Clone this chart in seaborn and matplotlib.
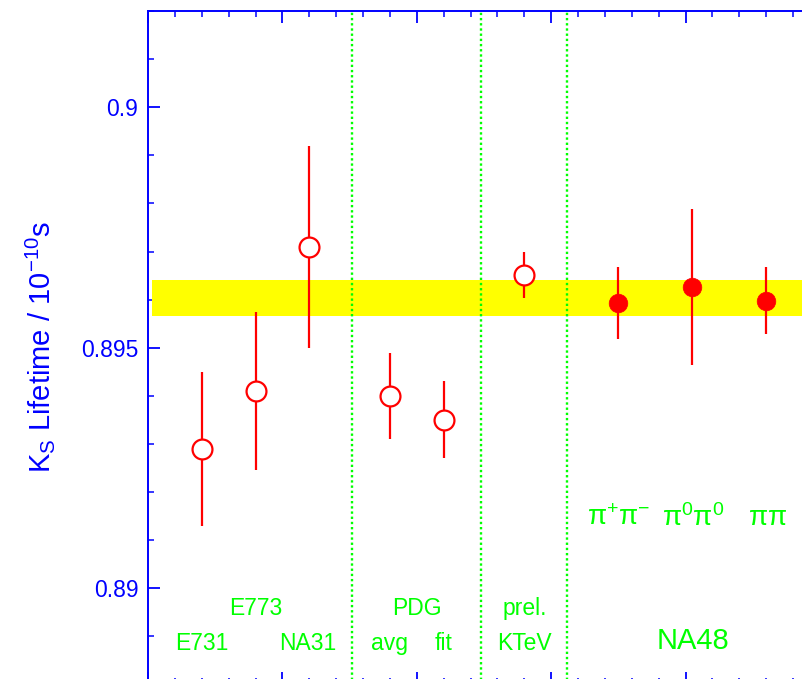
import matplotlib
matplotlib.use("Agg")
import matplotlib.pyplot as plt
import seaborn as sns
import numpy as np
import pandas as pd
from matplotlib.ticker import MultipleLocator, FixedLocator, FixedFormatter

# ---- data ----
experiments = ["E731", "E773", "NA31", "PDG avg", "PDG fit", "KTeV prel.",
               "NA48 pi+pi-", "NA48 pi0pi0", "NA48 pipi"]
x_pos = [2, 4, 6, 9, 11, 14, 17.5, 20.25, 23]
lifetime = [0.8929, 0.8941, 0.8971, 0.8940, 0.8935, 0.89652, 0.89593, 0.89626, 0.89598]
error = [0.0016, 0.00165, 0.0021, 0.00089, 0.0008, 0.00048, 0.00074, 0.00162, 0.0007]
filled = [False, False, False, False, False, False, True, True, True]
band_low, band_high = 0.89566, 0.8964
separators = [7.6, 12.4, 15.6]
ytick_values = [0.89, 0.895, 0.9]
ytick_labels = ["0.89", "0.895", "0.9"]

df = pd.DataFrame({"x": x_pos, "y": lifetime, "err": error, "filled": filled})

sns.set_theme(style="white")
plt.rcParams["font.family"] = ["Liberation Sans", "DejaVu Sans"]
plt.rcParams["mathtext.fontset"] = "custom"
plt.rcParams["mathtext.rm"] = "Liberation Sans"
plt.rcParams["mathtext.it"] = "Liberation Sans:italic"
plt.rcParams["mathtext.sf"] = "Liberation Sans"

BLUE = "#0000ff"
RED = "#ff0000"
GREEN = "#00ff00"
YELLOW = "#ffff00"

fig = plt.figure(figsize=(8.03, 6.79), dpi=100)
ax = fig.add_axes([148 / 803, -0.0080, 672 / 803, 0.9918])
ax.set_xlim(0, 25)
ax.set_ylim(0.888, 0.902)

# yellow band
ax.fill_between([0.15, 25], band_low, band_high, color=YELLOW, lw=0, zorder=1)

# separators
for s in separators:
    ax.axvline(s, color=GREEN, ls=(0, (1, 1.2)), lw=1.7, zorder=1)

# error bars
ax.vlines(df["x"], df["y"] - df["err"], df["y"] + df["err"], color=RED, lw=1.6, zorder=2)

# markers
op = df[~df["filled"]]
fl = df[df["filled"]]
sns.scatterplot(data=op, x="x", y="y", ax=ax, s=205, marker="o",
                facecolor="white", edgecolor=RED, linewidth=1.6, zorder=3, legend=False)
sns.scatterplot(data=fl, x="x", y="y", ax=ax, s=180, marker="o",
                color=RED, edgecolor=RED, linewidth=0.5, zorder=3, legend=False)

ax.set_xlabel("")
ax.set_ylabel("")

# ticks
ax.xaxis.set_major_locator(MultipleLocator(5))
ax.xaxis.set_minor_locator(MultipleLocator(1))
ax.yaxis.set_major_locator(FixedLocator(ytick_values))
ax.yaxis.set_major_formatter(FixedFormatter(ytick_labels))
ax.yaxis.set_minor_locator(MultipleLocator(0.001))
ax.tick_params(axis="x", which="both", direction="in", top=True, bottom=True,
               labelbottom=False, colors=BLUE)
ax.tick_params(axis="y", which="both", direction="in", left=True, right=False,
               colors=BLUE, labelsize=16.5, pad=7)
ax.tick_params(which="major", length=8.6, width=1.3)
ax.tick_params(which="minor", length=4.3, width=1.1)
for sp in ax.spines.values():
    sp.set_color(BLUE)
    sp.set_linewidth(1.4)

# y label
fig.text(40 / 803, 1 - 347 / 679, r"K$_\mathrm{S}$ Lifetime / 10$^{-10}$s",
         rotation=90, ha="center", va="center", color=BLUE, fontsize=21)

# group labels
txt = dict(color=GREEN, ha="center", va="center", fontsize=16.5)
ax.text(2, 0.88886, "E731", **txt)
ax.text(4, 0.88957, "E773", **txt)
ax.text(5.93, 0.88886, "NA31", **txt)
ax.text(10, 0.88957, "PDG", **txt)
ax.text(9, 0.88886, "avg", **txt)
ax.text(11, 0.88886, "fit", **txt)
ax.text(14, 0.88957, "prel.", **txt)
ax.text(14, 0.88886, "KTeV", **txt)
ax.text(20.27, 0.88891, "NA48", color=GREEN, ha="center", va="center", fontsize=21)
pk = dict(color=GREEN, ha="center", va="center", fontsize=20)
ax.text(17.5, 0.89145, r"$\mathrm{π}^{+}\mathrm{π}^{-}$", **pk)
ax.text(20.27, 0.89145, r"$\mathrm{π}^{0}\mathrm{π}^{0}$", **pk)
ax.text(23.05, 0.89145, r"$\mathrm{ππ}$", **pk)

fig.savefig("out.png", dpi=100)
